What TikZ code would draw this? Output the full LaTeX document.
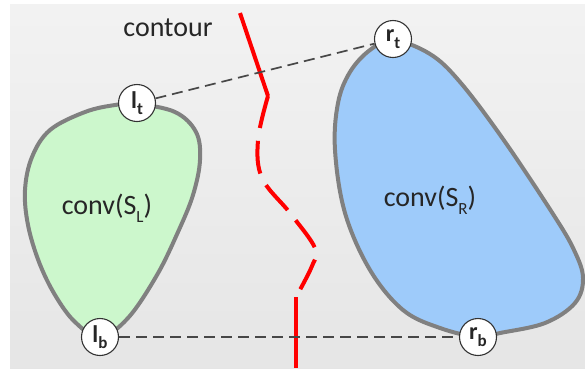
\documentclass[tikz,border=0pt]{standalone}
\usepackage{fontspec}
\setmainfont{Carlito}
\begin{document}
\begin{tikzpicture}[x=1pt,y=-1pt,
  blob/.style={draw=blobedge,line width=4pt,line join=round},
  pt/.style={circle,draw=black!80,line width=1.1pt,fill=white,minimum size=37pt,inner sep=0pt,
    font=\fontsize{24}{24}\selectfont\bfseries,text=black!85},
  lbl/.style={font=\fontsize{28}{28}\selectfont,text=black!85},
  hull/.style={dash pattern=on 11pt off 6pt,line width=1.7pt,draw=black!72},
  contourline/.style={draw=red,line width=4pt},
  contourdash/.style={draw=red,line width=4pt,dash pattern=on 33pt off 13pt}
]
\definecolor{blobedge}{RGB}{128,128,128}
\definecolor{greenfill}{RGB}{204,247,204}
\definecolor{bluefill}{RGB}{158,203,250}
\newcommand{\subx}[1]{\raisebox{-0.28em}{\fontsize{17}{17}\selectfont #1}}
\useasboundingbox (0,0) rectangle (585,368);
\shade[top color=black!5,bottom color=black!10] (10,4) rectangle (585,368);
% left hull
\draw[blob,fill=greenfill] plot[smooth cycle,tension=0.6] coordinates {
 (137,104) (175,112) (196,132) (200,160) (193,195) (178,232) (157,275) (128,318) (100,337)
 (75,322) (55,295) (39,262) (28,225) (25,190) (32,157) (50,130) (85,112) (115,105)};
% right hull
\draw[blob,fill=bluefill] plot[smooth cycle,tension=0.6] coordinates {
 (393,40) (430,54) (460,82) (503,139) (553,214) (574,250) (583,278) (575,303) (545,323)
 (500,333) (478,337) (440,328) (403,310) (370,270) (345,213) (335,150) (338,103) (350,72) (370,50)};
\node[lbl] (cl) at (107,208) {conv(S\subx{L})};
\node[lbl] (cr) at (430,200) {conv(S\subx{R})};
\node[lbl] (ct) at (168,28) {contour};
% contour
\coordinate (c0) at (240,13);
\coordinate (c1) at (268,96);
\coordinate (c2) at (296,297);
\coordinate (c3) at (296,368);
\draw[contourline] (c0) -- (c1);
\draw[contourdash] plot[smooth,tension=0.6] coordinates {(268,96) (258,140) (262,178) (290,213) (315,248) (312,266) (296,297)};
\draw[contourline] (c2) -- (c3);
% points
\node[pt] (lt) at (137,103) {l\subx{t}};
\node[pt] (lb) at (100,337) {l\subx{b}};
\node[pt] (rt) at (393,39) {r\subx{t}};
\node[pt] (rb) at (478,337) {r\subx{b}};
\draw[hull] (lt) -- (rt);
\draw[hull] (lb) -- (rb);
\end{tikzpicture}
\end{document}
